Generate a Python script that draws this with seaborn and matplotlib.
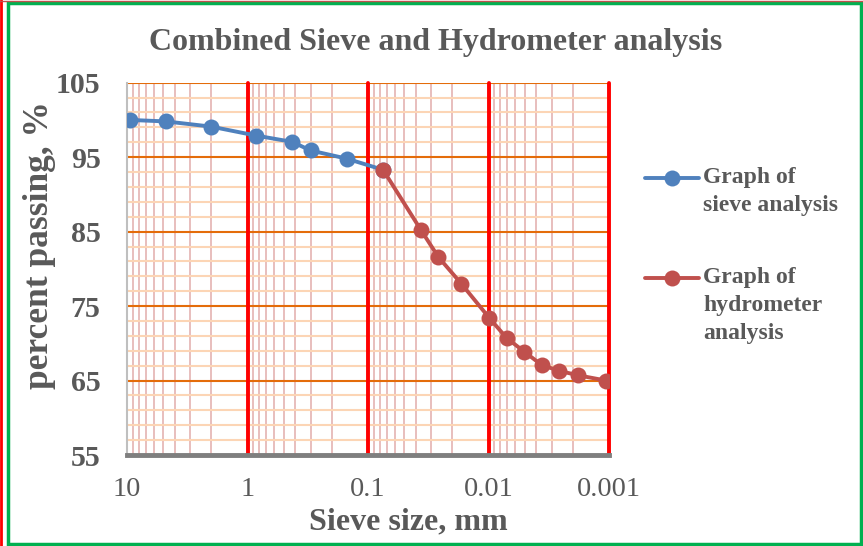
import matplotlib
matplotlib.use("Agg")
import matplotlib.pyplot as plt
import matplotlib.ticker as mticker
from matplotlib.patches import Rectangle
from matplotlib.lines import Line2D
import seaborn as sns
import pandas as pd

# Sieve analysis: particle size (mm) and percent passing
sieve_size = [9.5, 4.75, 2.0, 0.85, 0.425, 0.3, 0.15, 0.075]
sieve_passing = [100.0, 99.8, 99.1, 97.9, 97.05, 95.9, 94.8, 93.3]

# Hydrometer analysis: particle diameter (mm) and percent passing
hydro_size = [0.075, 0.0363, 0.0261, 0.0168, 0.00984, 0.00706, 0.00507,
              0.00363, 0.00259, 0.00180, 0.00106]
hydro_passing = [93.3, 85.2, 81.6, 78.0, 73.4, 70.7, 68.9, 67.1, 66.3, 65.7, 65.0]

x_ticks = [10, 1, 0.1, 0.01, 0.001]
x_tick_labels = ["10", "1", "0.1", "0.01", "0.001"]
y_ticks = [55, 65, 75, 85, 95, 105]

series_names = ["Graph of\nsieve analysis", "Graph of\nhydrometer\nanalysis"]

sieve_df = pd.DataFrame({"size": sieve_size, "passing": sieve_passing})
hydro_df = pd.DataFrame({"size": hydro_size, "passing": hydro_passing})

sns.set_theme(style="white")
plt.rcParams["font.family"] = ["Liberation Serif", "DejaVu Serif"]

GRAY = "#595959"
BLUE = "#4F81BD"
RED = "#C0504D"
LW = 2.8
MS = 11.5

fig = plt.figure(figsize=(8.63, 5.46), dpi=100)
fig.patch.set_facecolor("white")
ax = fig.add_axes([127 / 863, 1 - 455 / 546, (609 - 127) / 863, (455 - 82.7) / 546])

sns.lineplot(data=sieve_df, x="size", y="passing", ax=ax, color=BLUE,
             linewidth=LW, marker="o", markersize=MS, markeredgewidth=0,
             sort=False, zorder=3)
sns.lineplot(data=hydro_df, x="size", y="passing", ax=ax, color=RED,
             linewidth=LW, marker="o", markersize=MS, markeredgewidth=0,
             sort=False, zorder=4)

ax.set_xscale("log")
ax.set_xlim(10, 0.001)
ax.set_ylim(55, 105)

ax.xaxis.set_major_locator(mticker.FixedLocator(x_ticks))
ax.xaxis.set_minor_locator(mticker.LogLocator(base=10, subs=range(2, 10), numticks=20))
ax.xaxis.set_minor_formatter(mticker.NullFormatter())
ax.yaxis.set_major_locator(mticker.FixedLocator(y_ticks))
ax.yaxis.set_minor_locator(mticker.MultipleLocator(2, offset=1))

# log-paper style grid
ax.set_axisbelow(True)
ax.grid(which="minor", axis="x", color="#E6B9B8", linewidth=1.3)
ax.grid(which="minor", axis="y", color="#FCD5B5", linewidth=1.5)
ax.grid(which="major", axis="y", color="#E46C0A", linewidth=1.5)
ax.grid(which="major", axis="x", visible=False)
for xv in x_ticks[1:]:
    ax.axvline(xv, color="#FF0000", linewidth=2.8, zorder=1.5, clip_on=False)

ax.tick_params(which="both", length=0)
ax.tick_params(axis="y", labelsize=21.5, labelcolor=GRAY, pad=19)
for lbl in ax.get_yticklabels():
    lbl.set_fontweight("bold")
ax.set_xticklabels(x_tick_labels)
ax.tick_params(axis="x", labelsize=20.5, labelcolor=GRAY, pad=16)

for side in ["top", "right"]:
    ax.spines[side].set_visible(False)
ax.spines["left"].set_color("#BFBFBF")
ax.spines["left"].set_linewidth(1.5)
ax.spines["bottom"].set_color("#7F7F7F")
ax.spines["bottom"].set_linewidth(3.5)
ax.spines["bottom"].set_zorder(5)

ax.set_xlabel("")
ax.set_ylabel("")
fig.text(408 / 863, 1 - 522 / 546, "Sieve size, mm", ha="center", va="center",
         fontsize=23, fontweight="bold", color=GRAY)
fig.text(40 / 863, 1 - 245 / 546, "percent passing, %", ha="center", va="center",
         rotation=90, fontsize=25.5, fontweight="bold", color=GRAY)
fig.text(436 / 863, 1 - 43 / 546, "Combined Sieve and Hydrometer analysis",
         ha="center", va="center", fontsize=23, fontweight="bold", color=GRAY)

# Legend: handle aligned with the first line of each entry
legend_rows = [178, 278]
for (color, name, row) in zip([BLUE, RED], series_names, legend_rows):
    yf = 1 - row / 546
    fig.add_artist(Line2D([645 / 863, 699 / 863], [yf, yf], transform=fig.transFigure,
                          color=color, linewidth=LW))
    fig.add_artist(Line2D([672 / 863], [yf], transform=fig.transFigure, color=color,
                          marker="o", markersize=MS, markeredgewidth=0, linestyle="none"))
    for k, line in enumerate(name.split("\n")):
        fig.text(703 / 863, 1 - (row + 27.5 * k) / 546, line, ha="left", va="center",
                 fontsize=17, fontweight="bold", color=GRAY)

# Outer frame
fig.patches.append(Rectangle((8 / 863, 2 / 546), 853 / 863, 541 / 546,
                             transform=fig.transFigure, fill=False,
                             edgecolor="#00B050", linewidth=2.5))
fig.add_artist(Line2D([1 / 863, 1 / 863], [0, 1], transform=fig.transFigure,
                      color="#FF0000", linewidth=2))
fig.add_artist(Line2D([0, 1], [1 - 0.5 / 546, 1 - 0.5 / 546], transform=fig.transFigure,
                      color="#C0504D", linewidth=1))

fig.savefig("out.png", dpi=100, facecolor="white")
